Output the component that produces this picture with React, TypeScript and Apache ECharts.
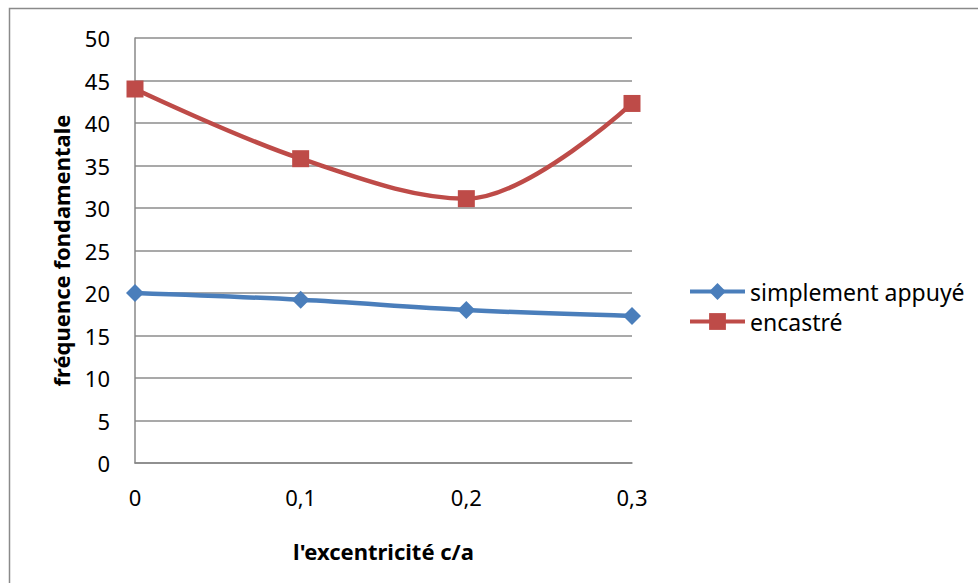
import React, { useEffect, useRef } from "react";
import * as echarts from "echarts";

const xLabels = ["0", "0,1", "0,2", "0,3"];
const simplementAppuye = [20.0, 19.2, 18.0, 17.3];
const encastre = [44.0, 35.8, 31.1, 42.3];
const seriesNames = ["simplement appuyé", "encastré"];
const xTitle = "l'excentricité c/a";
const yTitle = "fréquence fondamentale";

const FONT = "Noto Sans";

export default function App() {
  const ref = useRef<HTMLDivElement>(null);
  useEffect(() => {
    if (!ref.current) return;
    const chart = echarts.init(ref.current, null, { renderer: "svg" });
    chart.setOption({
      animation: false,
      backgroundColor: "#ffffff",
      textStyle: { fontFamily: FONT },
      graphic: [
        {
          type: "rect",
          shape: { x: 9.5, y: 8.5, width: 1000, height: 620 },
          style: { fill: "none", stroke: "#8a8a8a", lineWidth: 1.5 },
          silent: true,
        },
      ],
      grid: { left: 135, right: 346, top: 38, bottom: 120, containLabel: false },
      legend: {
        orient: "vertical",
        left: 688,
        top: 279,
        padding: 0,
        itemWidth: 55,
        itemHeight: 21,
        itemGap: 5,
        lineStyle: { width: 4 },
        textStyle: { fontFamily: FONT, fontSize: 23, color: "#000", lineHeight: 25 },
        data: seriesNames,
      },
      xAxis: {
        type: "category",
        data: xLabels,
        boundaryGap: false,
        name: xTitle,
        nameLocation: "middle",
        nameGap: 77,
        nameTextStyle: { fontFamily: FONT, fontSize: 22, fontWeight: "bold", color: "#000" },
        axisLine: { show: true, lineStyle: { color: "#888888", width: 1.5 } },
        axisTick: { show: false },
        axisLabel: { fontFamily: FONT, fontSize: 22, color: "#000", margin: 23 },
        splitLine: { show: false },
      },
      yAxis: {
        type: "value",
        min: 0,
        max: 50,
        interval: 5,
        name: yTitle,
        nameLocation: "middle",
        nameGap: 63,
        nameRotate: 90,
        nameTextStyle: { fontFamily: FONT, fontSize: 22, fontWeight: "bold", color: "#000" },
        axisLine: { show: true, lineStyle: { color: "#888888", width: 1.5 } },
        axisTick: { show: false },
        axisLabel: { fontFamily: FONT, fontSize: 22, color: "#000", margin: 25 },
        splitLine: { show: true, lineStyle: { color: "#8c8c8c", width: 1.5 } },
      },
      series: [
        {
          name: seriesNames[0],
          type: "line",
          data: simplementAppuye,
          smooth: 0.35,
          symbol: "diamond",
          symbolSize: 18,
          lineStyle: { color: "#4a7ebb", width: 4.5 },
          itemStyle: { color: "#4a7ebb" },
          z: 3,
        },
        {
          name: seriesNames[1],
          type: "line",
          data: encastre,
          smooth: 0.35,
          symbol: "rect",
          symbolSize: 17,
          lineStyle: { color: "#be4b48", width: 4.5 },
          itemStyle: { color: "#be4b48" },
          z: 3,
        },
      ],
    });
    return () => chart.dispose();
  }, []);
  return (
    <div
      ref={ref}
      style={{ position: "fixed", left: 0, top: 0, width: 978, height: 583 }}
    />
  );
}
